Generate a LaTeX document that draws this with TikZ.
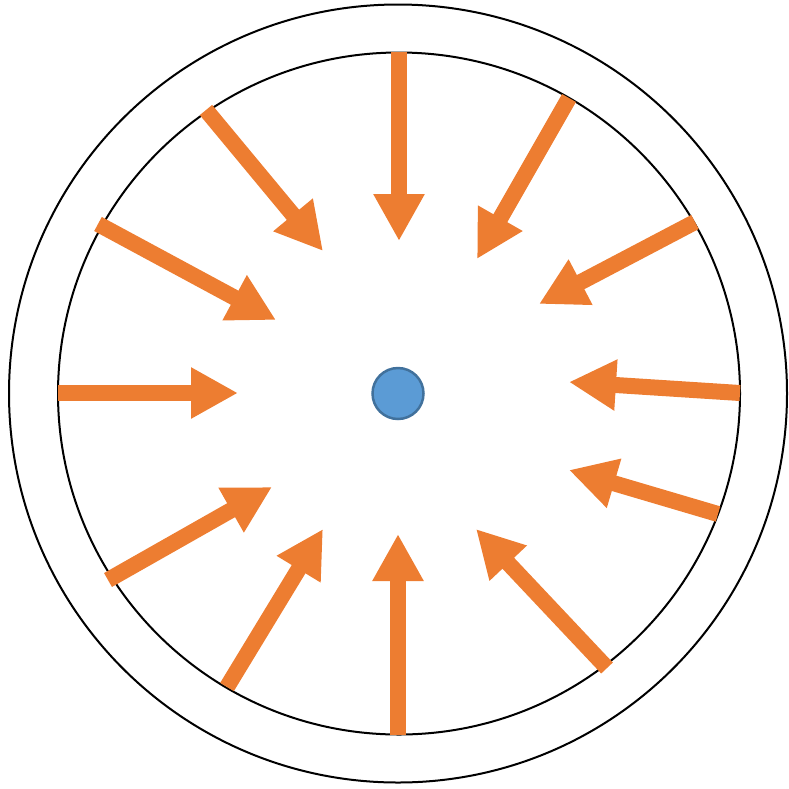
\documentclass[tikz,border=0pt]{standalone}
\usetikzlibrary{arrows.meta}
\definecolor{arrorange}{HTML}{ED7D31}
\definecolor{dotblue}{HTML}{5B9BD5}
\definecolor{dotedge}{HTML}{41719C}
\begin{document}
\begin{tikzpicture}[x=1pt,y=-1pt,
  ring/.style={draw=black,line width=2pt},
  arr/.style={draw=arrorange,line width=16pt,-{Triangle[width=48pt,length=47pt]}},
  dot/.style={circle,fill=dotblue,draw=dotedge,line width=2.5pt,minimum size=51pt,inner sep=0pt}]
\useasboundingbox (0,0) rectangle (789,788);
\draw[ring] (398,393.5) circle[radius=389];
\draw[ring] (399,393.5) circle[radius=341];
\node[dot] (c) at (398,393.5) {};
% arrows: start on inner circle, tip
\coordinate (s1) at (399,52);  \coordinate (t1) at (399,241);
\coordinate (s2) at (569,98);  \coordinate (t2) at (477,259);
\coordinate (s3) at (695,222); \coordinate (t3) at (539,304);
\coordinate (s4) at (740,393); \coordinate (t4) at (569,382);
\coordinate (s5) at (718,514); \coordinate (t5) at (569,470);
\coordinate (s6) at (607,668); \coordinate (t6) at (476,529);
\coordinate (s7) at (398,735); \coordinate (t7) at (398,534);
\coordinate (s8) at (227,687); \coordinate (t8) at (323,529);
\coordinate (s9) at (108,580); \coordinate (t9) at (272,487);
\coordinate (s10) at (58,393); \coordinate (t10) at (238,393);
\coordinate (s11) at (98,224); \coordinate (t11) at (276,320);
\coordinate (s12) at (206,110); \coordinate (t12) at (323,251);
\foreach \i in {1,...,12} {\draw[arr] (s\i) -- (t\i);}
\end{tikzpicture}
\end{document}
